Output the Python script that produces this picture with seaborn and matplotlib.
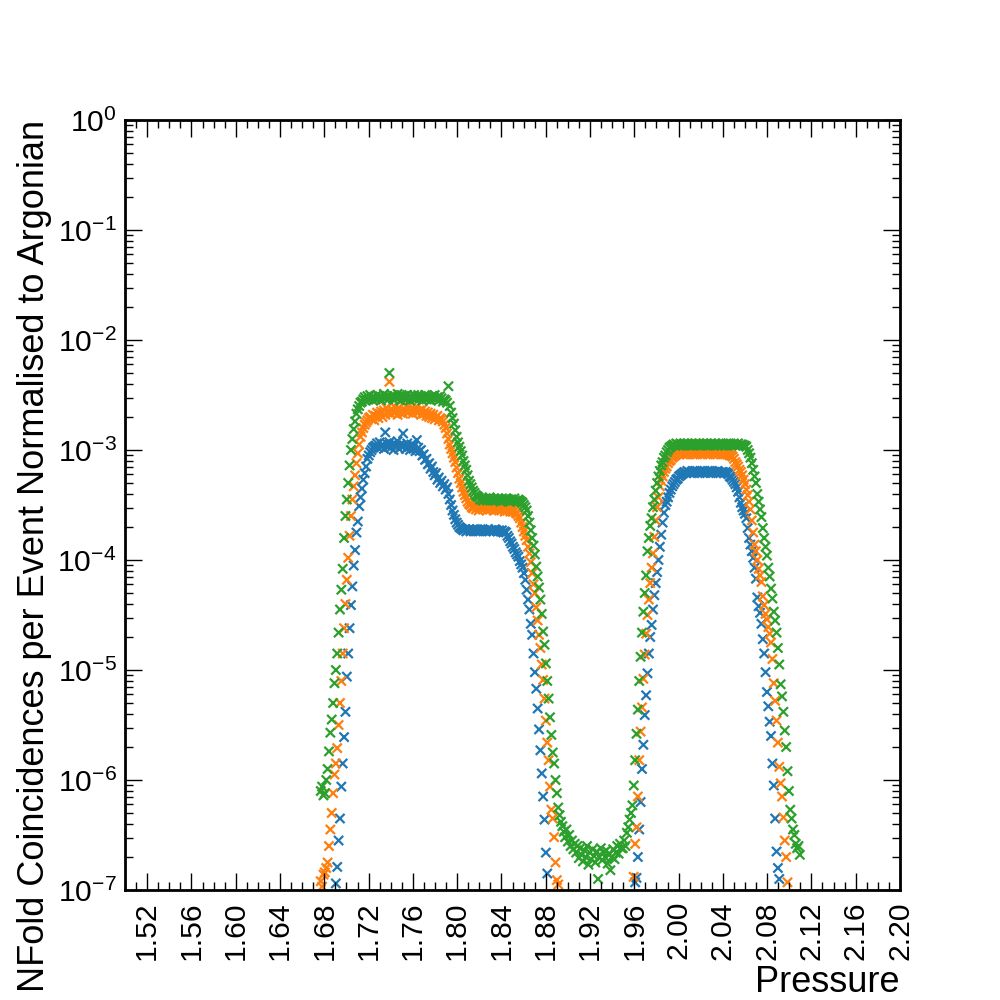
import numpy as np
import pandas as pd
import matplotlib
matplotlib.use('Agg')
import matplotlib.pyplot as plt
import matplotlib.ticker as ticker
import seaborn as sns

nan = np.nan

# pressure scan: first reading and step between readings
p_start = 1.6768
p_step = 0.00124
n_points = 350
pressure = np.round(p_start + p_step * np.arange(n_points), 5)

# log10 of coincidences per event (nan = below 1e-7, not shown)
blue_log = [
    nan, nan, nan, nan, nan, nan, nan, nan, nan, nan,
    -7.05, -6.94, -6.79, -6.55, -6.35, -6.06, -5.85, -5.61, -5.38, -5.06,
    -4.85, -4.62, -4.41, -4.24, -4.05, -3.91, -3.75, -3.65, -3.51, -3.43,
    -3.35, -3.27, -3.21, -3.15, -3.08, -3.05, -3.02, -3.00, -2.98, -2.97,
    -2.96, -2.94, -2.98, -2.93, -2.97, -2.95, -2.99, -2.84, -2.94, -2.97,
    -2.93, -2.98, -2.95, -3.00, -2.94, -2.96, -2.92, -2.99, -2.95, -2.97,
    -2.85, -2.96, -2.99, -2.94, -2.97, -3.00, -2.95, -2.98, -2.96, -3.01,
    -2.91, -2.98, -3.01, -3.00, -3.05, -3.04, -3.09, -3.08, -3.13, -3.12,
    -3.17, -3.15, -3.20, -3.23, -3.21, -3.27, -3.25, -3.30, -3.28, -3.33,
    -3.31, -3.36, -3.34, -3.40, -3.45, -3.50, -3.55, -3.59, -3.63, -3.66,
    -3.68, -3.70, -3.71, -3.72, -3.73, -3.72, -3.74, -3.73, -3.72, -3.74,
    -3.73, -3.72, -3.73, -3.74, -3.72, -3.73, -3.74, -3.73, -3.72, -3.73,
    -3.74, -3.73, -3.72, -3.74, -3.73, -3.73, -3.74, -3.72, -3.73, -3.74,
    -3.73, -3.74, -3.73, -3.75, -3.74, -3.75, -3.78, -3.80, -3.83, -3.85,
    -3.88, -3.90, -3.93, -3.95, -3.97, -4.01, -4.04, -4.07, -4.12, -4.18,
    -4.27, -4.36, -4.45, -4.58, -4.68, -4.85, -5.02, -5.17, -5.35, -5.54,
    -5.73, -5.94, -6.15, -6.36, -6.66, -6.85, -7.10, nan, nan, nan,
    nan, nan, nan, nan, nan, nan, nan, nan, nan, nan,
    nan, nan, nan, nan, nan, nan, nan, nan, nan, nan,
    nan, nan, nan, nan, nan, nan, nan, nan, nan, nan,
    nan, nan, nan, nan, nan, nan, nan, nan, nan, nan,
    nan, nan, nan, nan, nan, nan, nan, nan, nan, nan,
    nan, nan, nan, nan, nan, nan, nan, nan, nan, -6.93,
    -6.89, -6.70, -6.45, -6.20, -5.90, -5.68, -5.41, -5.23, -5.03, -4.85,
    -4.70, -4.59, -4.45, -4.32, -4.21, -4.11, -4.00, -3.88, -3.77, -3.66,
    -3.57, -3.50, -3.47, -3.43, -3.39, -3.36, -3.33, -3.31, -3.29, -3.27,
    -3.26, -3.24, -3.23, -3.22, -3.21, -3.20, -3.21, -3.19, -3.20, -3.21,
    -3.20, -3.19, -3.21, -3.20, -3.19, -3.20, -3.21, -3.20, -3.19, -3.20,
    -3.21, -3.20, -3.19, -3.20, -3.21, -3.19, -3.20, -3.20, -3.21, -3.19,
    -3.20, -3.21, -3.20, -3.20, -3.21, -3.20, -3.21, -3.22, -3.24, -3.25,
    -3.27, -3.29, -3.31, -3.34, -3.38, -3.43, -3.48, -3.52, -3.55, -3.58,
    -3.62, -3.71, -3.80, -3.86, -3.92, -3.98, -4.07, -4.17, -4.34, -4.42,
    -4.48, -4.58, -4.72, -4.85, -5.02, -5.20, -5.33, -5.47, -5.60, -5.85,
    -6.05, -6.35, -6.65, -6.80, -6.90, -7.15, nan, nan, nan, nan,
    nan, nan, nan, nan, nan, nan, nan, nan, nan, nan,
]

orange_log = [
    -6.92, -6.97, -6.86, -6.84, -6.80, -6.75, -6.60, -6.45, -6.30, -6.12,
    -5.95, -5.85, -5.71, -5.50, -5.30, -5.10, -4.85, -4.62, -4.40, -4.18,
    -3.98, -3.78, -3.60, -3.45, -3.33, -3.23, -3.12, -3.03, -2.95, -2.88,
    -2.84, -2.80, -2.77, -2.75, -2.73, -2.71, -2.70, -2.72, -2.68, -2.73,
    -2.69, -2.66, -2.71, -2.67, -2.65, -2.70, -2.64, -2.68, -2.62, -2.66,
    -2.38, -2.67, -2.63, -2.66, -2.61, -2.65, -2.68, -2.62, -2.66, -2.64,
    -2.67, -2.63, -2.65, -2.60, -2.66, -2.64, -2.62, -2.67, -2.63, -2.65,
    -2.61, -2.66, -2.64, -2.68, -2.63, -2.67, -2.65, -2.69, -2.66, -2.70,
    -2.67, -2.71, -2.68, -2.72, -2.70, -2.69, -2.73, -2.71, -2.72, -2.74,
    -2.77, -2.80, -2.85, -2.90, -2.95, -2.99, -3.03, -3.07, -3.11, -3.16,
    -3.21, -3.26, -3.30, -3.34, -3.38, -3.41, -3.44, -3.47, -3.49, -3.50,
    -3.52, -3.53, -3.51, -3.54, -3.52, -3.55, -3.53, -3.51, -3.54, -3.53,
    -3.52, -3.55, -3.53, -3.54, -3.51, -3.53, -3.55, -3.52, -3.54, -3.53,
    -3.55, -3.52, -3.54, -3.53, -3.56, -3.53, -3.55, -3.54, -3.56, -3.55,
    -3.56, -3.55, -3.57, -3.58, -3.60, -3.62, -3.66, -3.70, -3.74, -3.78,
    -3.82, -3.88, -3.94, -4.02, -4.12, -4.22, -4.30, -4.43, -4.55, -4.68,
    -4.80, -4.95, -5.09, -5.26, -5.46, -5.66, -5.82, -6.06, -6.27, -6.35,
    -6.52, -6.75, -6.91, -6.95, -7.12, nan, nan, nan, nan, nan,
    nan, nan, nan, nan, nan, nan, nan, nan, nan, nan,
    nan, nan, nan, nan, nan, nan, nan, nan, nan, nan,
    nan, nan, nan, nan, nan, nan, nan, nan, nan, nan,
    nan, nan, nan, nan, nan, nan, nan, nan, nan, nan,
    nan, nan, nan, nan, nan, nan, nan, -7.10, -6.88, -6.58,
    -6.43, -6.15, -5.82, -5.56, -5.34, -5.08, -4.86, -4.67, -4.50, -4.36,
    -4.21, -4.07, -3.94, -3.79, -3.64, -3.52, -3.43, -3.33, -3.28, -3.24,
    -3.20, -3.17, -3.15, -3.12, -3.10, -3.09, -3.07, -3.06, -3.05, -3.04,
    -3.03, -3.04, -3.02, -3.03, -3.04, -3.02, -3.03, -3.04, -3.02, -3.03,
    -3.02, -3.04, -3.03, -3.02, -3.04, -3.03, -3.02, -3.03, -3.04, -3.02,
    -3.03, -3.02, -3.04, -3.03, -3.02, -3.03, -3.04, -3.02, -3.03, -3.04,
    -3.03, -3.02, -3.03, -3.04, -3.03, -3.03, -3.04, -3.04, -3.05, -3.05,
    -3.06, -3.08, -3.11, -3.13, -3.15, -3.18, -3.20, -3.23, -3.27, -3.31,
    -3.36, -3.41, -3.47, -3.54, -3.64, -3.75, -3.86, -3.92, -4.00, -4.08,
    -4.14, -4.20, -4.33, -4.41, -4.49, -4.54, -4.61, -4.67, -4.75, -4.90,
    -5.12, -5.28, -5.46, -5.66, -5.88, -6.03, -6.15, -6.34, -6.55, -6.70,
    -6.93, -7.05, nan, nan, nan, nan, nan, nan, nan, nan,
]

green_log = [
    -6.10, -6.06, -6.14, -6.12, -6.00, -5.90, -5.74, -5.57, -5.45, -5.30,
    -5.12, -5.00, -4.85, -4.66, -4.45, -4.27, -4.08, -3.80, -3.60, -3.45,
    -3.30, -3.14, -3.00, -2.90, -2.81, -2.74, -2.67, -2.63, -2.60, -2.57,
    -2.56, -2.54, -2.52, -2.55, -2.51, -2.54, -2.50, -2.53, -2.55, -2.52,
    -2.54, -2.50, -2.53, -2.51, -2.55, -2.52, -2.49, -2.53, -2.51, -2.54,
    -2.30, -2.52, -2.50, -2.54, -2.51, -2.53, -2.49, -2.52, -2.55, -2.50,
    -2.53, -2.51, -2.54, -2.50, -2.52, -2.55, -2.51, -2.53, -2.50, -2.54,
    -2.52, -2.50, -2.53, -2.51, -2.55, -2.52, -2.50, -2.54, -2.51, -2.53,
    -2.55, -2.51, -2.53, -2.50, -2.54, -2.52, -2.55, -2.51, -2.53, -2.56,
    -2.54, -2.55, -2.57, -2.42, -2.60, -2.66, -2.71, -2.76, -2.82, -2.88,
    -2.93, -2.97, -3.01, -3.05, -3.10, -3.14, -3.18, -3.23, -3.28, -3.31,
    -3.34, -3.37, -3.39, -3.41, -3.42, -3.43, -3.45, -3.44, -3.46, -3.45,
    -3.44, -3.46, -3.45, -3.43, -3.45, -3.46, -3.44, -3.45, -3.46, -3.44,
    -3.45, -3.47, -3.44, -3.46, -3.45, -3.44, -3.46, -3.45, -3.47, -3.45,
    -3.46, -3.44, -3.46, -3.47, -3.45, -3.46, -3.47, -3.48, -3.50, -3.52,
    -3.55, -3.60, -3.66, -3.73, -3.80, -3.87, -3.95, -4.06, -4.15, -4.25,
    -4.36, -4.49, -4.65, -4.77, -4.94, -5.10, -5.26, -5.43, -5.59, -5.75,
    -5.85, -6.00, -6.12, -6.25, -6.32, -6.38, -6.42, -6.47, -6.52, -6.45,
    -6.56, -6.50, -6.60, -6.55, -6.63, -6.58, -6.66, -6.60, -6.71, -6.62,
    -6.68, -6.74, -6.64, -6.70, -6.60, -6.77, -6.66, -6.72, -6.63, -6.69,
    -6.75, -6.65, -6.90, -6.70, -6.62, -6.73, -6.66, -6.70, -6.64, -6.76,
    -6.68, -6.82, -6.70, -6.63, -6.72, -6.66, -6.60, -6.67, -6.58, -6.62,
    -6.62, -6.55, -6.60, -6.48, -6.43, -6.36, -6.30, -6.23, -6.05, -5.82,
    -5.58, -5.36, -5.10, -4.88, -4.66, -4.47, -4.30, -4.14, -3.92, -3.80,
    -3.69, -3.62, -3.52, -3.45, -3.37, -3.30, -3.24, -3.19, -3.14, -3.11,
    -3.07, -3.05, -3.02, -3.00, -2.98, -2.97, -2.96, -2.95, -2.96, -2.94,
    -2.95, -2.96, -2.94, -2.95, -2.96, -2.94, -2.95, -2.94, -2.96, -2.95,
    -2.94, -2.96, -2.95, -2.94, -2.95, -2.96, -2.94, -2.95, -2.96, -2.94,
    -2.95, -2.94, -2.96, -2.95, -2.94, -2.95, -2.96, -2.94, -2.95, -2.96,
    -2.94, -2.95, -2.96, -2.94, -2.95, -2.96, -2.95, -2.94, -2.95, -2.96,
    -2.95, -2.94, -2.96, -2.95, -2.94, -2.96, -2.95, -2.95, -2.96, -2.96,
    -2.97, -3.00, -3.03, -3.07, -3.12, -3.18, -3.24, -3.30, -3.40, -3.47,
    -3.54, -3.61, -3.71, -3.80, -3.88, -3.96, -4.07, -4.15, -4.26, -4.35,
    -4.47, -4.55, -4.66, -4.80, -4.95, -5.13, -5.24, -5.38, -5.55, -5.70,
    -5.92, -6.10, -6.27, -6.35, -6.45, -6.50, -6.58, -6.62, -6.60, -6.68,
]

series_names = ['Set 1', 'Set 2', 'Set 3']
series_colors = ['#1f77b4', '#ff7f0e', '#2ca02c']

frames = []
for name, vals in zip(series_names, [blue_log, orange_log, green_log]):
    frames.append(pd.DataFrame({'Pressure': pressure,
                                'rate': 10.0 ** np.array(vals, dtype=float),
                                'series': name}))
df = pd.concat(frames, ignore_index=True).dropna()

# ROOT-like look
plt.rcParams.update({
    'font.family': ['Liberation Sans', 'DejaVu Sans'],
    'font.size': 26,
    'mathtext.fontset': 'custom',
    'mathtext.rm': 'Liberation Sans',
    'mathtext.it': 'Liberation Sans:italic',
    'mathtext.bf': 'Liberation Sans:bold',
    'axes.linewidth': 2,
    'axes.labelsize': 'medium',
    'xtick.labelsize': 'small',
    'ytick.labelsize': 'small',
    'xtick.direction': 'in',
    'ytick.direction': 'in',
    'xtick.top': True,
    'ytick.right': True,
    'xtick.major.size': 12,
    'xtick.minor.size': 6,
    'ytick.major.size': 12,
    'ytick.minor.size': 6,
    'xtick.major.width': 1,
    'xtick.minor.width': 1,
    'ytick.major.width': 1,
    'ytick.minor.width': 1,
    'xtick.major.pad': 8,
    'ytick.major.pad': 6,
})

fig, ax = plt.subplots(figsize=(10, 10), dpi=100)
ax.set_yscale('log')
sns.scatterplot(data=df, x='Pressure', y='rate', hue='series',
                palette=series_colors, marker='x', s=44, linewidth=1.6,
                legend=False, ax=ax)

ax.set_xlim(1.5, 2.2)
ax.set_ylim(1e-7, 1)
ax.xaxis.set_major_locator(ticker.MultipleLocator(0.04))
ax.xaxis.set_minor_locator(ticker.MultipleLocator(0.01))
ax.xaxis.set_major_formatter(ticker.FormatStrFormatter('%.2f'))
ax.yaxis.set_major_locator(ticker.LogLocator(base=10, numticks=20))
ax.yaxis.set_minor_locator(ticker.LogLocator(base=10, subs=np.arange(2, 10), numticks=20))
ax.yaxis.set_minor_formatter(ticker.NullFormatter())
ax.tick_params(axis='x', labelrotation=90)
ax.tick_params(which='both', top=True, right=True)

ax.set_xlabel('Pressure', loc='right')
ax.set_ylabel('NFold Coincidences per Event Normalised to Argonian', loc='top')

fig.savefig('out.png', dpi=100)
